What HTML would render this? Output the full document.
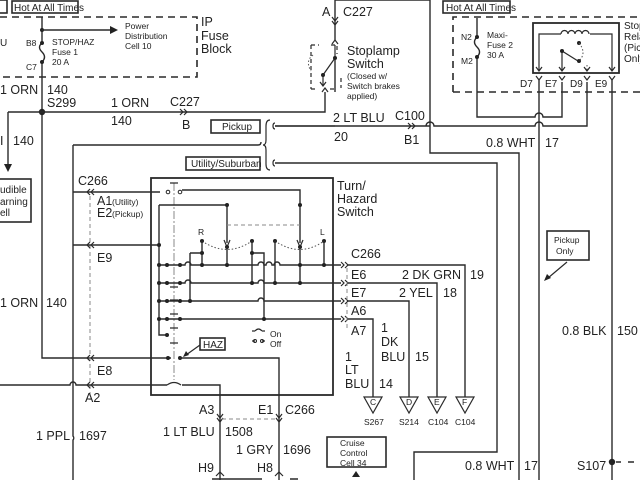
<!DOCTYPE html>
<html><head><meta charset="utf-8"><style>
html,body{margin:0;padding:0;background:#fff;}
svg{display:block;font-family:"Liberation Sans",Arial,sans-serif;fill:#222;}
.w{stroke:#2a2a2a;stroke-width:1.4;fill:none;}
.t{stroke:#2a2a2a;stroke-width:1.2;fill:none;}
.d{stroke:#2a2a2a;stroke-width:1.6;fill:none;stroke-dasharray:7 5;}
.gd{stroke:#888;stroke-width:1;fill:none;stroke-dasharray:4 3;}
.dd{stroke:#888;stroke-width:1;fill:none;stroke-dasharray:8 2 2 2;}
.dt{stroke:#555;stroke-width:1;fill:none;stroke-dasharray:1.5 2;}
.b{stroke:#2a2a2a;stroke-width:1.6;fill:#fff;}
text{font-size:12.5px;}
.s{font-size:8.5px;}
.m{font-size:10px;}
</style></head><body>
<svg width="640" height="480" viewBox="0 0 640 480" xmlns="http://www.w3.org/2000/svg">
<!-- top left boxes -->
<rect x="-2" y="0" width="9" height="13" class="b"/>
<rect x="12" y="1" width="66" height="12" class="b"/>
<text x="14" y="11" class="m">Hot At All Times</text>
<!-- IP fuse block -->
<path d="M0 17 H197 V77 H0" class="d"/>
<text x="201" y="26">IP</text><text x="201" y="40">Fuse</text><text x="201" y="53">Block</text>
<text x="0" y="46" class="m">U</text>
<path d="M42 17 V43 M42 62 V358 H171" class="w"/>
<path d="M42 43 q-5 4 0 9 q5 5 0 10" class="w"/>
<circle cx="42" cy="30" r="2"/><circle cx="42" cy="43" r="2"/><circle cx="42" cy="62" r="2"/>
<path d="M42 30 H112" class="w"/><path d="M110 26 L118 30 L110 34Z"/>
<text x="125" y="29" class="s">Power</text><text x="125" y="39" class="s">Distribution</text><text x="125" y="49" class="s">Cell 10</text>
<text x="26" y="46" class="s">B8</text><text x="26" y="70" class="s">C7</text>
<text x="52" y="45" class="s">STOP/HAZ</text><text x="52" y="55" class="s">Fuse 1</text><text x="52" y="65" class="s">20 A</text>
<text x="0" y="94">1 ORN</text><text x="47" y="94">140</text><text x="47" y="107">S299</text>
<circle cx="42" cy="112" r="3.2"/>
<path d="M8 112 H325 V92" class="w"/>
<path d="M8 112 V166" class="w"/><path d="M4 164 L8 172 L12 164Z"/>
<text x="0" y="145">I</text><text x="13" y="145">140</text>
<rect x="-2" y="179" width="33" height="43" class="b"/>
<text x="0" y="193" class="m">udible</text><text x="0" y="205" class="m">arning</text><text x="0" y="216" class="m">ell</text>
<text x="111" y="107">1 ORN</text><text x="111" y="125">140</text>
<text x="170" y="106">C227</text><text x="182" y="129">B</text>
<path d="M180 109 l3 3 l-3 3 M184 109 l3 3 l-3 3" class="t"/>
<!-- pickup/utility -->
<rect x="211" y="120" width="49" height="13" class="b"/><text x="222" y="130" class="m">Pickup</text>
<rect x="186" y="157" width="74" height="13" class="b"/><text x="191" y="167" class="m">Utility/Suburban</text>
<path d="M270 120 q-4 0 -4 6 v14 q0 5 -3 5 q3 0 3 5 v14 q0 6 4 6" class="t"/>
<path d="M275 123 q-2 0 -2 3 q0 3 2 3 M275 126 H335 v0" class="t"/>
<path d="M275 126 H430" class="w"/>
<path d="M275 160 q-2 0 -2 3 q0 3 2 3" class="t"/>
<path d="M275 163 H497 V452 H414 V480" class="w"/>
<path d="M73 145 H258 q3 0 3 -3" class="w"/>
<path d="M73 145 V436 a3 3 0 0 1 0 4 V480" class="w"/>
<text x="78" y="185">C266</text>
<path d="M94 189 l-3 3 l3 3 M90 189 l-3 3 l3 3" class="t"/>
<path d="M73 192 H160" class="w"/>
<text x="97" y="205">A1</text><text x="112" y="205" class="s">(Utility)</text>
<text x="97" y="217">E2</text><text x="112" y="217" class="s">(Pickup)</text>
<path d="M90 196 V400" class="gd"/>
<!-- switch box -->
<rect x="151" y="178" width="182" height="217" class="w" style="stroke-width:1.8"/>
<text x="337" y="190">Turn/</text><text x="337" y="203">Hazard</text><text x="337" y="216">Switch</text>
<path d="M174 183 V380" class="dd"/>
<path d="M170 183 h8 M170 287 h8 M170 300 h8 M170 314 h8 M170 328 h8 M170 343 h8" class="t"/>
<circle cx="168" cy="192" r="1.8" fill="none" stroke="#222"/><circle cx="180" cy="192" r="1.8" fill="none" stroke="#222"/>
<path d="M182 190 H300 V243" class="w"/><path d="M297 240 l3 7 l3 -7" class="t"/>
<path d="M159 205 H227 V243" class="w"/><path d="M224 240 l3 7 l3 -7" class="t"/>
<circle cx="227" cy="205" r="2"/><circle cx="300" cy="205" r="2"/>
<path d="M227 225 H300" class="gd"/>
<text x="198" y="235" class="s">R</text><text x="320" y="235" class="s">L</text>
<path d="M202 241 Q227 258 252 241 M275 241 Q300 258 324 241" class="dt"/>
<circle cx="202" cy="241" r="2"/><circle cx="227" cy="247" r="2"/><circle cx="252" cy="241" r="2"/><circle cx="275" cy="241" r="2"/><circle cx="300" cy="247" r="2"/><circle cx="324" cy="241" r="2"/>
<path d="M159 205 V335 H168" class="w"/>
<path d="M202 241 V265 M190 253 H202 M190 253 V301 M252 241 V283 M252 253 H264 V319 M275 241 V283 M300 247 V283 M324 241 V265 M227 247 V265" class="w"/>
<circle cx="202" cy="253" r="2"/><circle cx="252" cy="253" r="2"/>
<path d="M159 265 H185 a3 3 0 0 1 6 0 H258 a3 3 0 0 1 6 0 h2 a3 3 0 0 1 6 0 h2 a3 3 0 0 1 6 0 H341" class="w"/>
<path d="M159 283 H185 a3 3 0 0 1 6 0 H258 a3 3 0 0 1 6 0 H341" class="w"/>
<path d="M159 301 H258 a3 3 0 0 1 6 0 H341" class="w"/>
<path d="M159 319 H341" class="w"/>
<g>
<circle cx="159" cy="265" r="2"/><circle cx="167" cy="265" r="2"/><circle cx="180" cy="265" r="2"/>
<circle cx="159" cy="283" r="2"/><circle cx="167" cy="283" r="2"/><circle cx="180" cy="283" r="2"/>
<circle cx="159" cy="301" r="2"/><circle cx="167" cy="301" r="2"/><circle cx="180" cy="301" r="2"/>
<circle cx="159" cy="319" r="2"/><circle cx="167" cy="319" r="2"/><circle cx="180" cy="319" r="2"/>
<circle cx="167" cy="335" r="2"/><circle cx="180" cy="358" r="2"/><circle cx="168" cy="358" r="2"/>
<circle cx="202" cy="265" r="2"/><circle cx="190" cy="301" r="2"/><circle cx="252" cy="283" r="2"/><circle cx="264" cy="319" r="2"/><circle cx="275" cy="283" r="2"/><circle cx="300" cy="283" r="2"/><circle cx="324" cy="265" r="2"/><circle cx="227" cy="265" r="2"/><circle cx="300" cy="265" r="2"/>
</g>
<path d="M73 245 H160" class="w"/><circle cx="159" cy="245" r="2"/>
<path d="M94 242 l-3 3 l3 3 M90 242 l-3 3 l3 3" class="t"/>
<text x="97" y="262">E9</text>
<text x="0" y="307">1 ORN</text><text x="46" y="307">140</text>
<!-- HAZ -->
<rect x="200" y="338" width="25" height="12" class="b"/><text x="203" y="348" class="m">HAZ</text>
<path d="M200 345 L186 355" class="t"/><path d="M183 357 l3 -6 l3 4z"/>
<path d="M252 331 h3 m7 0 h3 M252 341 h3 m7 0 h3 M255 331 q3.5 -4 7 0" class="t"/>
<circle cx="255" cy="341" r="1.5" fill="none" stroke="#222"/><circle cx="262" cy="341" r="1.5" fill="none" stroke="#222"/>
<text x="270" y="337" class="s">On</text><text x="270" y="347" class="s">Off</text>
<path d="M180 358 H279 V480" class="w"/>
<path d="M94 355 l-3 3 l3 3 M90 355 l-3 3 l3 3" class="t"/>
<text x="97" y="375">E8</text>
<path d="M0 385 H70 a3 3 0 0 1 6 0 H167 M182 385 H220 V480" class="w"/>
<path d="M167 385 q7 -5 14 0" class="t"/>
<path d="M94 382 l-3 3 l3 3 M90 382 l-3 3 l3 3" class="t"/>
<text x="85" y="402">A2</text>
<path d="M217 414 l3 4 l3 -4 M217 418 l3 4 l3 -4 M276 414 l3 4 l3 -4 M276 418 l3 4 l3 -4" class="t"/>
<path d="M222 419 H277" class="gd"/>
<text x="199" y="414">A3</text><text x="258" y="414">E1</text><text x="285" y="414">C266</text>
<text x="163" y="436">1 LT BLU</text><text x="225" y="436">1508</text>
<text x="236" y="454">1 GRY</text><text x="283" y="454">1696</text>
<text x="36" y="440">1 PPL</text><text x="79" y="440">1697</text>
<text x="198" y="472">H9</text><text x="257" y="472">H8</text>
<path d="M216 476 l4 -4 l4 4 M275 476 l4 -4 l4 4" class="t"/>
<path d="M212 479 H262 M290 479 H298" class="w"/>
<!-- right outputs -->
<text x="351" y="258">C266</text>
<path d="M341 262 l3 3 l-3 3 M345 262 l3 3 l-3 3 M341 280 l3 3 l-3 3 M345 280 l3 3 l-3 3 M341 298 l3 3 l-3 3 M345 298 l3 3 l-3 3 M341 316 l3 3 l-3 3 M345 316 l3 3 l-3 3" class="t"/>
<path d="M347 265 H465 V397 M347 283 H437 V397 M347 301 H409 V397 M347 319 H373 V397" class="w"/>
<path d="M347 268 V330" class="gd"/>
<text x="351" y="279">E6</text><text x="402" y="279">2 DK GRN</text><text x="470" y="279">19</text>
<text x="351" y="297">E7</text><text x="399" y="297">2 YEL</text><text x="443" y="297">18</text>
<text x="351" y="315">A6</text><text x="351" y="335">A7</text>
<text x="381" y="332">1</text><text x="381" y="346">DK</text><text x="381" y="361">BLU</text><text x="415" y="361">15</text>
<text x="345" y="361">1</text><text x="345" y="374">LT</text><text x="345" y="388">BLU</text><text x="379" y="388">14</text>
<path d="M364 397 h18 l-9 16z M400 397 h18 l-9 16z M428 397 h18 l-9 16z M456 397 h18 l-9 16z" class="t"/>
<text x="370" y="405" class="s">C</text><text x="406" y="405" class="s">D</text><text x="434" y="405" class="s">E</text><text x="462" y="405" class="s">F</text>
<text x="364" y="425" class="s">S267</text><text x="399" y="425" class="s">S214</text><text x="428" y="425" class="s">C104</text><text x="455" y="425" class="s">C104</text>
<rect x="327" y="437" width="59" height="30" class="b"/>
<text x="340" y="446" class="s">Cruise</text><text x="340" y="456" class="s">Control</text><text x="340" y="466" class="s">Cell 34</text>
<path d="M352 477 l4 -6 l4 6z"/>
<!-- stoplamp switch -->
<text x="322" y="16">A</text><text x="343" y="16">C227</text>
<path d="M335 0 V40 M335 60 V92" class="w"/>
<path d="M332 17 l3 4 l3 -4 M332 21 l3 4 l3 -4 M332 44 l3 -4 l3 4" class="t"/>
<path d="M335 0 H430 V153 H519 V480" class="w"/>
<path d="M311 45 h8 M331 45 h6 V54 M311 45 v44 M311 89 h4 M330 89 h6 M341 78 v10" class="t" style="stroke-dasharray:4 3"/>
<path d="M335 45 V58 L323 75 V85" class="t"/><circle cx="335" cy="58" r="2"/><circle cx="323" cy="75" r="2"/>
<path d="M320 82 l3 4 l3 -4" class="t"/>
<path d="M322 92 l3 -4 l3 4" class="t"/>
<path d="M313 55 q-8 6 -2 16" class="dt"/>
<text x="347" y="55">Stoplamp</text><text x="347" y="68">Switch</text>
<text x="347" y="79" class="s">(Closed w/</text><text x="347" y="89" class="s">Switch brakes</text><text x="347" y="99" class="s">applied)</text>
<text x="333" y="122">2 LT BLU</text><text x="334" y="141">20</text>
<text x="395" y="120">C100</text><text x="404" y="144">B1</text>
<path d="M408 123 l3 3 l-3 3 M412 123 l3 3 l-3 3" class="t"/>
<path d="M430 126 h0" class="w"/>
<path d="M426 126 a4 4 0 0 1 8 0 H535 a4 4 0 0 1 8 0 H587 V82" class="w"/>
<!-- right fuse block -->
<rect x="443" y="1" width="67" height="12" class="b"/><text x="446" y="11" class="m">Hot At All Times</text>
<path d="M453 92 V17 H640 M453 92 H640" class="d"/>
<text x="461" y="40" class="s">N2</text><text x="461" y="64" class="s">M2</text>
<path d="M477 18 V37 M477 57 V117 H535 a4 4 0 0 1 8 0 H562 V82" class="w"/>
<path d="M477 37 q-5 5 0 10 q5 5 0 10" class="w"/>
<circle cx="477" cy="37" r="2"/><circle cx="477" cy="57" r="2"/>
<text x="487" y="38" class="s">Maxi-</text><text x="487" y="48" class="s">Fuse 2</text><text x="487" y="58" class="s">30 A</text>
<rect x="533" y="23" width="86" height="50" class="w" style="stroke-width:1.8"/>
<path d="M539 70 V34 H561 M590 34 H612 V70" class="t"/>
<path d="M561 34 a3.5 3.5 0 0 1 7 0 a3.5 3.5 0 0 1 7 0 a3.5 3.5 0 0 1 7 0 a3.5 3.5 0 0 1 7 0" class="t"/>
<path d="M562 70 V51 L578 61 M579 43 V43 H580" class="t"/>
<circle cx="562" cy="51" r="2"/><circle cx="579" cy="61" r="2"/><circle cx="579" cy="43" r="2"/>
<path d="M587 70 V65 M579 43 q8 10 0 18" class="dt"/>
<path d="M536 67 l3 4 l3 -4 M559 67 l3 4 l3 -4 M584 67 l3 4 l3 -4 M609 67 l3 4 l3 -4" class="t"/>
<path d="M536 76 l3 4 l3 -4 M559 76 l3 4 l3 -4 M584 76 l3 4 l3 -4 M609 76 l3 4 l3 -4" class="t"/>
<text x="520" y="87" class="m">D7</text><text x="545" y="87" class="m">E7</text><text x="570" y="87" class="m">D9</text><text x="595" y="87" class="m">E9</text>
<text x="624" y="29" class="m">Stop</text><text x="624" y="40" class="m">Rela</text><text x="624" y="51" class="m">(Pick</text><text x="624" y="62" class="m">Only</text>
<path d="M539 80 V480 M612 80 V480" class="w"/>
<text x="486" y="147">0.8 WHT</text><text x="545" y="147">17</text>
<rect x="547" y="231" width="42" height="29" class="b"/><text x="554" y="243" class="s">Pickup</text><text x="556" y="254" class="s">Only</text>
<path d="M567 262 L548 278" class="t"/><path d="M544 281 l3 -7 l4 4z"/>
<text x="562" y="335">0.8 BLK</text><text x="617" y="335">150</text>
<text x="465" y="470">0.8 WHT</text><text x="524" y="470">17</text>
<text x="577" y="470">S107</text><circle cx="612" cy="462" r="3.2"/>
<path d="M616 462 h5 M628 462 h6" class="w"/>
</svg>
</body></html>
